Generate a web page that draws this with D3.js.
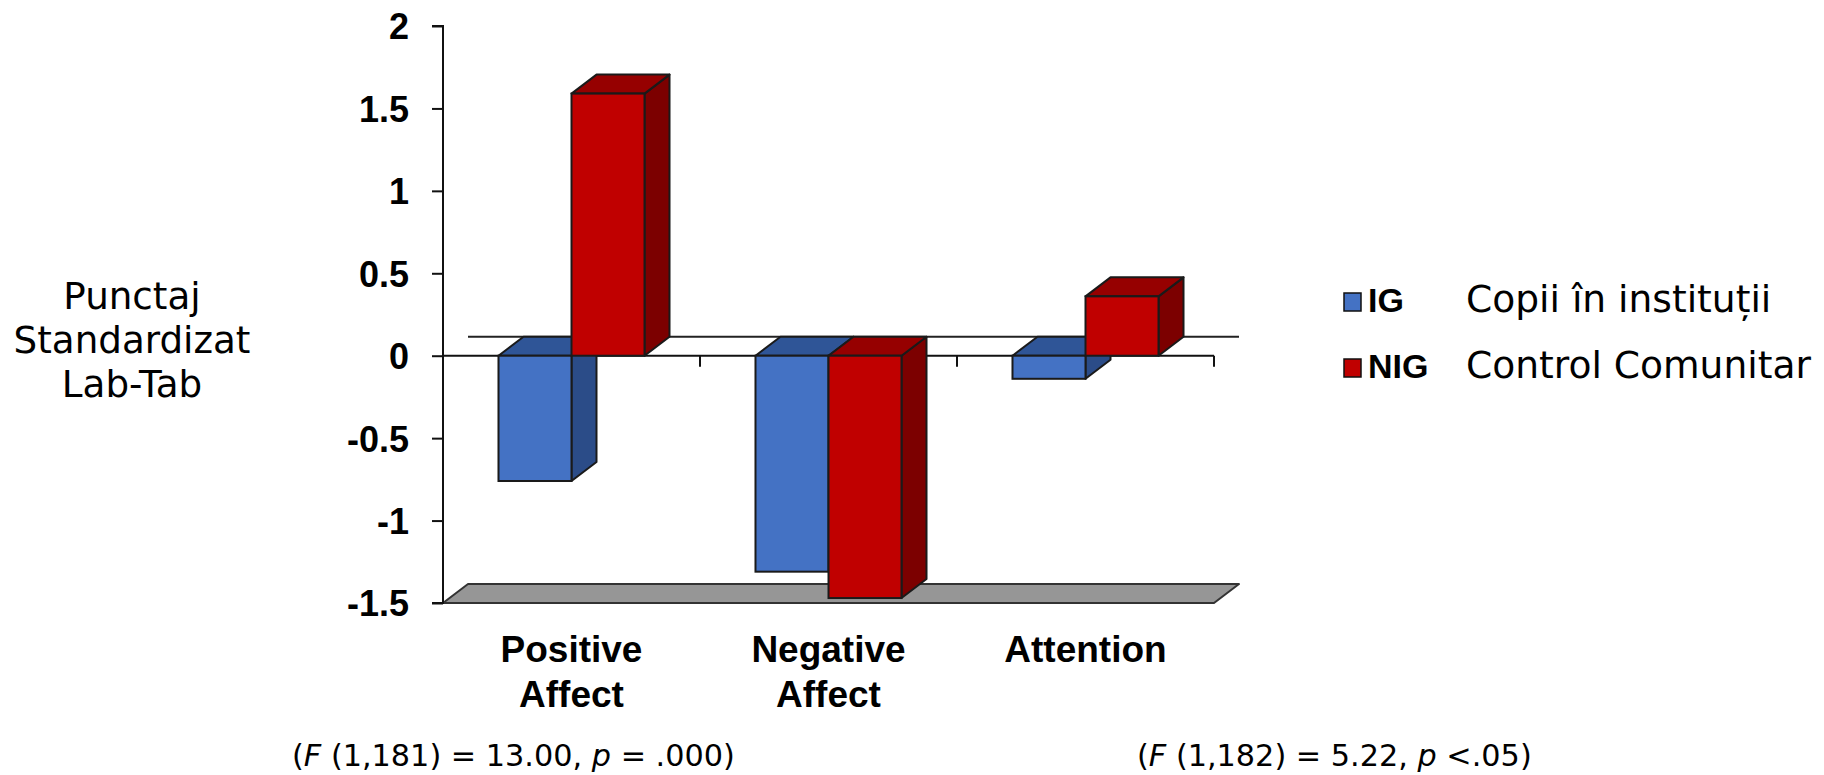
<!DOCTYPE html>
<html>
<head>
<meta charset="utf-8">
<script src="https://cdn.jsdelivr.net/npm/d3@7"></script>
<style>
  html, body { margin: 0; padding: 0; background: #ffffff; }
  svg { display: block; }
</style>
</head>
<body>
<svg id="chart" width="1824" height="775"></svg>
<script>
// ---------------- data ----------------
const categories = ["Positive Affect", "Negative Affect", "Attention"];
const categoryLines = [["Positive", "Affect"], ["Negative", "Affect"], ["Attention"]];
const seriesKeys = ["IG", "NIG"];
const seriesNames = ["Copii în instituții", "Control Comunitar"];
const igValues = [-0.76, -1.31, -0.14];
const nigValues = [1.59, -1.47, 0.36];
const yTickValues = [-1.5, -1, -0.5, 0, 0.5, 1, 1.5, 2];
const yTickLabels = ["-1.5", "-1", "-0.5", "0", "0.5", "1", "1.5", "2"];
const yTitleLines = ["Punctaj", "Standardizat", "Lab-Tab"];
const statNotes = [
  [["(", "n"], ["F", "i"], [" (1,181) = 13.00, ", "n"], ["p", "i"], [" = .000)", "n"]],
  [["(", "n"], ["F", "i"], [" (1,182) = 5.22, ", "n"], ["p", "i"], [" <.05)", "n"]]
];

// ---------------- styles ----------------
const colors = {
  IG:  { front: "#4472C4", top: "#2F5597", side: "#2B4C88" },
  NIG: { front: "#C00000", top: "#960000", side: "#7C0000" }
};
const DX = 25, DY = -19;           // 3-D depth offset
const sansBold = "'Liberation Sans', Arial, sans-serif";
const geo = "'DejaVu Sans', sans-serif";

const svg = d3.select("#chart");

// ---------------- scales ----------------
const y = d3.scaleLinear().domain([-1.5, 2]).range([603, 26]);
const x0 = d3.scaleBand().domain(categories).range([443, 1214]).padding(0);
const x1 = d3.scaleBand().domain(seriesKeys).range([0, x0.bandwidth()])
  .paddingInner(0).paddingOuter(0.76);

const rows = categories.map((c, i) => ({ cat: c, IG: igValues[i], NIG: nigValues[i] }));

// ---------------- floor (at -1.5) ----------------
const yMin = y(-1.5);
const xL = x0.range()[0], xR = x0.range()[1];
svg.append("polygon")
  .attr("points", [[xL, yMin], [xR, yMin], [xR + DX, yMin + DY], [xL + DX, yMin + DY]].map(p => p.join(",")).join(" "))
  .attr("fill", "#969696").attr("stroke", "#333").attr("stroke-width", 2).attr("stroke-linejoin", "round");

// back zero line
svg.append("line")
  .attr("x1", xL + DX).attr("x2", xR + DX)
  .attr("y1", y(0) + DY).attr("y2", y(0) + DY)
  .attr("stroke", "#222").attr("stroke-width", 2);

// front zero axis line with category boundary ticks
svg.append("line")
  .attr("x1", xL).attr("x2", xR).attr("y1", y(0)).attr("y2", y(0))
  .attr("stroke", "#111").attr("stroke-width", 2);
const boundaries = categories.map(c => x0(c)).concat([xR]);
svg.selectAll("line.xtick").data(boundaries).join("line")
  .attr("class", "xtick")
  .attr("x1", d => d).attr("x2", d => d)
  .attr("y1", y(0)).attr("y2", y(0) + 11)
  .attr("stroke", "#111").attr("stroke-width", 2);

// ---------------- y axis ----------------
const yAxis = d3.axisLeft(y).tickValues(yTickValues).tickSize(11).tickPadding(23)
  .tickFormat((d, i) => yTickLabels[i]);
const gy = svg.append("g").attr("transform", `translate(${xL},0)`).call(yAxis);
gy.select(".domain").attr("stroke", "#111").attr("stroke-width", 2).attr("d", `M-11,${y(2)}H0V${yMin}H-11`);
gy.selectAll(".tick line").attr("stroke", "#111").attr("stroke-width", 2);
gy.selectAll(".tick text")
  .attr("font-family", sansBold).attr("font-weight", "bold").attr("font-size", 36)
  .attr("fill", "#000").attr("dy", "0.36em");

// ---------------- bars ----------------
function drawBar(g, xPos, w, v, key) {
  const c = colors[key];
  const yTop = Math.min(y(v), y(0));
  const yBot = Math.max(y(v), y(0));
  // side face
  g.append("polygon")
    .attr("points", [[xPos + w, yTop], [xPos + w + DX, yTop + DY], [xPos + w + DX, yBot + DY], [xPos + w, yBot]].map(p => p.join(",")).join(" "))
    .attr("fill", c.side).attr("stroke", "#1a1a1a").attr("stroke-width", 2).attr("stroke-linejoin", "round");
  // top face
  g.append("polygon")
    .attr("points", [[xPos, yTop], [xPos + DX, yTop + DY], [xPos + w + DX, yTop + DY], [xPos + w, yTop]].map(p => p.join(",")).join(" "))
    .attr("fill", c.top).attr("stroke", "#1a1a1a").attr("stroke-width", 2).attr("stroke-linejoin", "round");
  // front face
  g.append("rect")
    .attr("x", xPos).attr("y", yTop).attr("width", w).attr("height", yBot - yTop)
    .attr("fill", c.front).attr("stroke", "#1a1a1a").attr("stroke-width", 2);
}

const barsG = svg.append("g");
rows.forEach(r => {
  seriesKeys.forEach(k => {
    drawBar(barsG, x0(r.cat) + x1(k), x1.bandwidth(), r[k], k);
  });
});

// ---------------- category labels ----------------
categories.forEach((c, i) => {
  const t = svg.append("text")
    .attr("x", x0(c) + x0.bandwidth() / 2).attr("y", 662)
    .attr("text-anchor", "middle")
    .attr("font-family", sansBold).attr("font-weight", "bold").attr("font-size", 37).attr("fill", "#000");
  categoryLines[i].forEach((ln, j) => {
    t.append("tspan").attr("x", x0(c) + x0.bandwidth() / 2).attr("dy", j === 0 ? 0 : 45).text(ln);
  });
});

// helper: fit a font size to a target width
function fitSize(text, family, weight, target) {
  const probe = svg.append("text").attr("font-family", family).attr("font-weight", weight)
    .attr("font-size", 100).text(text);
  const w = probe.node().getComputedTextLength();
  probe.remove();
  return 100 * target / w;
}

// ---------------- y title ----------------
const titleSize = fitSize("Standardizat", geo, "normal", 237);
const yTitleBaselines = [309, 353, 397];
yTitleLines.forEach((ln, i) => {
  svg.append("text").attr("x", 132).attr("y", yTitleBaselines[i])
    .attr("text-anchor", "middle").attr("font-family", geo).attr("font-size", titleSize)
    .attr("fill", "#000").text(ln);
});

// ---------------- legend ----------------
const legendSize = fitSize("Control Comunitar", geo, "normal", 345);
const legendRows = [312, 378];
seriesKeys.forEach((k, i) => {
  const base = legendRows[i];
  svg.append("rect").attr("x", 1344).attr("y", base - 19).attr("width", 17).attr("height", 18)
    .attr("fill", colors[k].front).attr("stroke", "#111").attr("stroke-width", 1.5);
  svg.append("text").attr("x", 1368).attr("y", base)
    .attr("font-family", sansBold).attr("font-weight", "bold").attr("font-size", 34).attr("fill", "#000")
    .text(k);
  svg.append("text").attr("x", 1466).attr("y", base)
    .attr("font-family", geo).attr("font-size", legendSize).attr("fill", "#000")
    .text(seriesNames[i]);
});

// ---------------- statistics notes ----------------
const noteX = [292, 1137];
const noteText0 = statNotes[0].map(p => p[0]).join("");
const noteSize = fitSize(noteText0, geo, "normal", 443);
statNotes.forEach((parts, i) => {
  const t = svg.append("text").attr("x", noteX[i]).attr("y", 766)
    .attr("font-family", geo).attr("font-size", noteSize).attr("fill", "#000")
    .attr("xml:space", "preserve").style("white-space", "pre");
  parts.forEach(p => {
    t.append("tspan").attr("font-style", p[1] === "i" ? "italic" : "normal").text(p[0]);
  });
});
</script>
</body>
</html>
